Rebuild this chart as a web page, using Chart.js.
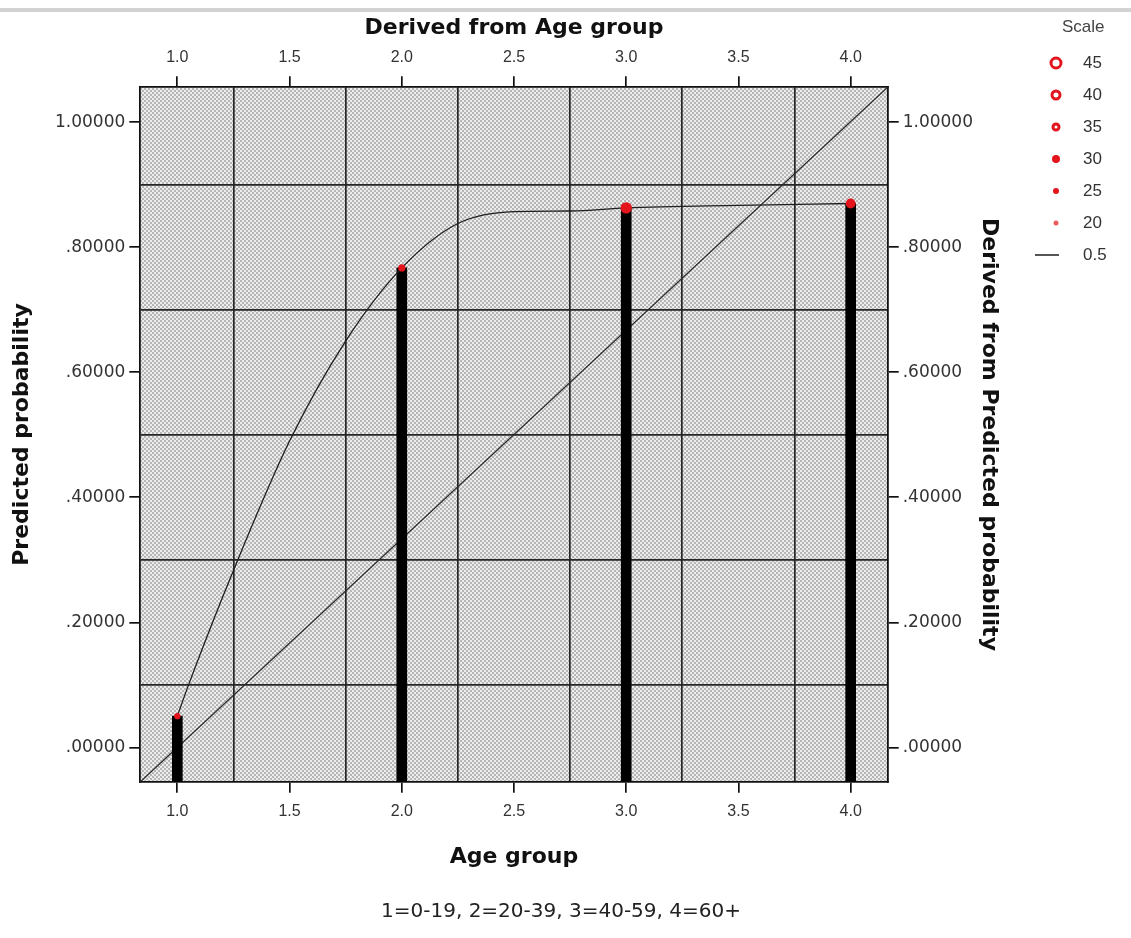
<!DOCTYPE html>
<html lang="en">
<head>
<meta charset="utf-8">
<title>Predicted probability by age group</title>
<script src="https://cdn.jsdelivr.net/npm/chart.js@4.4.1/dist/chart.umd.min.js"></script>
<style>
  html, body { margin: 0; padding: 0; background: #fff; }
  #contenedor { position: relative; width: 1131px; height: 938px; overflow: hidden; }
  #franja { position: absolute; left: 0; top: 8px; width: 1131px; height: 4px; background: #d2d2d2; }
  #leyenda { position: absolute; left: 1030px; top: 0; width: 101px; height: 280px;
             font-family: 'Liberation Sans', Arial, sans-serif; font-size: 17px; color: #333; }
  #leyenda .titulo { position: absolute; left: 32px; top: 17px; color: #444; }
  #leyenda .fila { position: absolute; left: 0; width: 100px; height: 20px; }
  #leyenda .marca { position: absolute; box-sizing: border-box; border-radius: 50%; background: #e3141b; transform: translate(-50%, -50%); top: 10px; left: 26px; }
  #leyenda .anillo { background: #fff; border: 3px solid #e3141b; }
  #leyenda .linea { position: absolute; left: 5px; top: 9px; width: 24px; height: 2px; background: #555; }
  #leyenda .texto { position: absolute; left: 53px; top: 0; }
</style>
</head>
<body>
<div id="contenedor">
  <canvas id="grafico" width="1131" height="938"></canvas>
  <div id="franja"></div>
  <div id="leyenda">
    <div class="titulo">Scale</div>
    <div class="fila" style="top:53px"><span class="marca anillo" style="width:13px;height:13px;border-width:3.5px"></span><span class="texto">45</span></div>
    <div class="fila" style="top:85px"><span class="marca anillo" style="width:11px;height:11px"></span><span class="texto">40</span></div>
    <div class="fila" style="top:117px"><span class="marca anillo" style="width:9px;height:9px;border-width:3px"></span><span class="texto">35</span></div>
    <div class="fila" style="top:149px"><span class="marca" style="width:8px;height:8px"></span><span class="texto">30</span></div>
    <div class="fila" style="top:181px"><span class="marca" style="width:6px;height:6px"></span><span class="texto">25</span></div>
    <div class="fila" style="top:213px"><span class="marca" style="width:5px;height:5px;background:#ef5b60"></span><span class="texto">20</span></div>
    <div class="fila" style="top:245px"><span class="linea"></span><span class="texto">0.5</span></div>
  </div>
</div>
<script>
// Datos
const edades = [1, 2, 3, 4];
const probabilidades = [0.050, 0.767, 0.863, 0.870];
const escalaPuntos = [24, 27, 40, 35];

// Curva suavizada (loess 0.5)
const curvaX = [1.0, 1.05, 1.25, 1.5, 1.75, 2.0, 2.25, 2.5, 2.75, 3.0, 3.5, 4.0];
const curvaY = [0.050, 0.100, 0.283, 0.490, 0.650, 0.767, 0.838, 0.857, 0.858, 0.863, 0.867, 0.870];

// Línea diagonal de referencia (de esquina a esquina)
const diagonalX = [0.835, 4.165];
const diagonalY = [-0.055, 1.056];

// Etiquetas y líneas de cuadrícula de los ejes
const etiquetasX = [1.0, 1.5, 2.0, 2.5, 3.0, 3.5, 4.0];
const lineasX = [1.25, 1.75, 2.25, 2.75, 3.25, 3.75];
const etiquetasY = [0, 0.2, 0.4, 0.6, 0.8, 1.0];
const lineasY = [0.1, 0.3, 0.5, 0.7, 0.9];

// Límites de los ejes
const X_MIN = 0.835, X_MAX = 4.165;
const Y_MIN = -0.055, Y_MAX = 1.056;

const fuente = "'Liberation Sans', Arial, sans-serif";
const fuenteAncha = "'DejaVu Sans', 'Liberation Sans', sans-serif";
const transparente = 'rgba(0,0,0,0)';

// Comprueba si un valor está en una lista
function enLista(v, lista) {
    return lista.some(l => Math.abs(l - v) < 1e-6);
}

// Trama punteada gris del fondo del área del gráfico
const tesela = document.createElement('canvas');
tesela.width = 4;
tesela.height = 4;
const tctx = tesela.getContext('2d');
tctx.fillStyle = '#ececec';
tctx.fillRect(0, 0, 4, 4);
tctx.fillStyle = '#b6b6b6';
tctx.fillRect(0, 0, 2, 2);
tctx.fillRect(2, 2, 2, 2);

const fondoTrama = {
    id: 'fondoTrama',
    beforeDraw(chart) {
        const { ctx, chartArea } = chart;
        ctx.save();
        ctx.fillStyle = ctx.createPattern(tesela, 'repeat');
        ctx.fillRect(chartArea.left, chartArea.top, chartArea.width, chartArea.height);
        ctx.restore();
    }
};

// Construye un eje con marcas en las etiquetas y cuadrícula entre ellas
function crearEje(posicion, etiquetas, lineas, min, max, formato, titulo, conCuadricula, fuenteTicks, separacion, relleno) {
    const esLinea = c => c.tick !== undefined && enLista(c.tick.value, lineas);
    return {
        type: 'linear',
        position: posicion,
        min: min,
        max: max,
        offset: false,
        afterBuildTicks: eje => {
            eje.ticks = etiquetas.concat(lineas).sort((a, b) => a - b).map(v => ({ value: v }));
        },
        ticks: {
            autoSkip: false,
            maxRotation: 0,
            padding: separacion,
            color: '#333',
            font: fuenteTicks,
            callback: v => enLista(v, etiquetas) ? formato(v) : ''
        },
        grid: {
            offset: false,
            drawOnChartArea: conCuadricula,
            lineWidth: 1.7,
            tickLength: 11,
            color: c => esLinea(c) ? '#262626' : transparente,
            tickColor: c => esLinea(c) ? transparente : '#111'
        },
        border: { display: true, color: '#111', width: 1.8 },
        title: {
            display: true,
            text: titulo,
            color: '#111',
            font: { family: fuenteAncha, size: 22, weight: 'bold', lineHeight: 1 },
            padding: relleno
        }
    };
}

const formatoX = v => v.toFixed(1);
const formatoY = v => v.toFixed(5).replace(/^0/, '');
const fuenteX = { family: fuente, size: 16 };
const fuenteY = { family: fuenteAncha, size: 17 };

new Chart(document.getElementById('grafico'), {
    type: 'scatter',
    data: {
        datasets: [
            {
                // Puntos rojos en la parte superior de cada barra
                type: 'scatter',
                data: edades.map((x, i) => ({ x: x, y: probabilidades[i] })),
                pointRadius: escalaPuntos.map(s => 2.5 + (s - 20) * 0.16),
                pointBackgroundColor: '#e3141b',
                pointBorderColor: '#e3141b',
                borderWidth: 0,
                order: 0
            },
            {
                // Curva suavizada
                type: 'line',
                data: curvaX.map((x, i) => ({ x: x, y: curvaY[i] })),
                borderColor: '#1e1e1e',
                borderWidth: 1.3,
                pointRadius: 0,
                cubicInterpolationMode: 'monotone',
                order: 1
            },
            {
                // Barras negras finas desde la base del eje
                type: 'bar',
                data: edades.map((x, i) => ({ x: x, y: [Y_MIN, probabilidades[i]] })),
                backgroundColor: '#000',
                barThickness: 10,
                grouped: false,
                order: 2
            },
            {
                // Diagonal de referencia
                type: 'line',
                data: diagonalX.map((x, i) => ({ x: x, y: diagonalY[i] })),
                borderColor: '#2a2a2a',
                borderWidth: 1.3,
                pointRadius: 0,
                order: 3
            }
        ]
    },
    options: {
        responsive: false,
        animation: false,
        layout: { padding: { left: 4, right: 13, top: 13, bottom: 4 } },
        plugins: {
            legend: { display: false },
            tooltip: { enabled: false },
            title: {
                display: true,
                position: 'bottom',
                text: '1=0-19, 2=20-39, 3=40-59, 4=60+',
                color: '#222',
                font: { family: fuenteAncha, size: 20, weight: 'normal' },
                padding: { top: 28, bottom: 10 }
            }
        },
        scales: {
            x: crearEje('bottom', etiquetasX, lineasX, X_MIN, X_MAX, formatoX, 'Age group', true, fuenteX, 9, { top: 16, bottom: 4 }),
            x2: crearEje('top', etiquetasX, lineasX, X_MIN, X_MAX, formatoX, 'Derived from Age group', false, fuenteX, 9, { top: 4, bottom: 0 }),
            y: crearEje('left', etiquetasY, lineasY, Y_MIN, Y_MAX, formatoY, 'Predicted probability', true, fuenteY, 4, { top: 7, bottom: 18 }),
            y2: crearEje('right', etiquetasY, lineasY, Y_MIN, Y_MAX, formatoY, 'Derived from Predicted probability', false, fuenteY, 4, { top: 118, bottom: 1 })
        }
    },
    plugins: [fondoTrama]
});
</script>
</body>
</html>
